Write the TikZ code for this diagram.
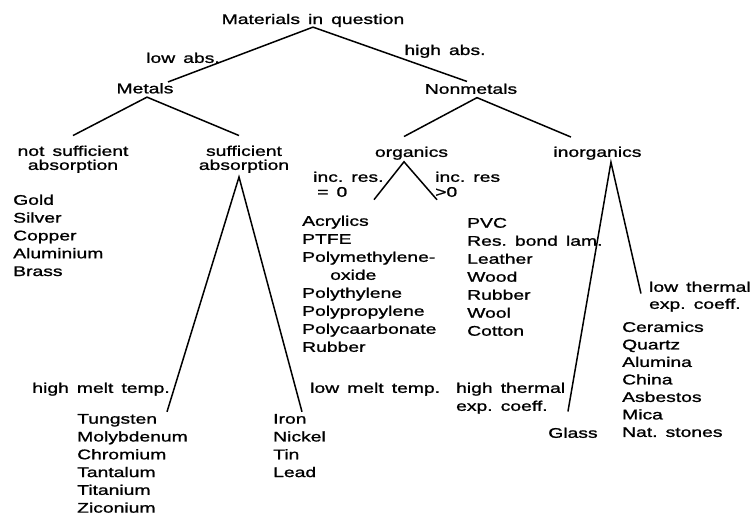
\documentclass[tikz,border=0pt]{standalone}
\usepackage{fontspec}
\setmainfont{Liberation Sans}[FakeStretch=1.38, WordSpace=1.5, FakeBold=1.2]
\usepackage{tikz}
\tikzstyle{lbl} = [inner sep=0pt, font=\fontsize{14}{14}\selectfont]
\tikzstyle{lbltwo} = [inner sep=0pt, align=center, font=\fontsize{14}{14}\selectfont]
\tikzstyle{lst} = [inner sep=0pt, align=left, font=\fontsize{14}{17.8}\selectfont]
\tikzstyle{branch} = [line width=1.5pt]

\begin{document}
\frenchspacing
\begin{tikzpicture}[x=1pt, y=-1pt]
\useasboundingbox (0,0) rectangle (756,516);
\node(root)[lbl] at (313,20.4) {Materials in question};
\node(lowabs)[lbl, below of=root, xshift=-130pt, yshift=-9pt] {low abs.};
\node(highabs)[lbl, below of=root, xshift=132pt, yshift=-2.5pt] {high abs.};
\node(metals)[lbl, below of=lowabs, xshift=-38pt, yshift=-2pt] {Metals};
\node(nonmetals)[lbl, below of=highabs, xshift=26pt, yshift=-9pt] {Nonmetals};
\node(notsuff)[lbltwo, below of=metals, xshift=-72pt, yshift=-42.5pt] {not sufficient\\absorption};
\node(suff)[lbltwo, below of=metals, xshift=99pt, yshift=-42.5pt] {sufficient\\absorption};
\node(organics)[lbl, below of=nonmetals, xshift=-59.5pt, yshift=-36pt] {organics};
\node(inorganics)[lbl, right of=organics, xshift=157.5pt] {inorganics};

% metals side
\node(goldlist)[lst, below of=notsuff, xshift=-60pt, yshift=-47.7pt, anchor=west] {Gold\\Silver\\Copper\\Aluminium\\Brass};
\node(highmelt)[lbl, below of=suff, xshift=-74pt, yshift=-201.5pt, anchor=east] {high melt temp.};
\node(lowmelt)[lbl, below of=suff, xshift=66pt, yshift=-201.5pt, anchor=west] {low melt temp.};
\node(tung)[lst, below of=suff, xshift=-167pt, yshift=-275.7pt, anchor=west] {Tungsten\\Molybdenum\\Chromium\\Tantalum\\Titanium\\Ziconium};
\node(iron)[lst, below of=suff, xshift=29pt, yshift=-257.9pt, anchor=west] {Iron\\Nickel\\Tin\\Lead};

% nonmetals side
\node(increszero)[lbltwo, align=left, font=\fontsize{14}{15}\selectfont, below of=organics, xshift=-98.5pt, yshift=-2.6pt, anchor=west] {inc. res.\\\hspace*{4pt}= 0};
\node(increspos)[lbltwo, align=left, font=\fontsize{14}{15}\selectfont, below of=organics, xshift=23.5pt, yshift=-2.6pt, anchor=west] {inc. res\\>0};
\node(acryl)[lst, font=\fontsize{14}{18}\selectfont, below of=organics, xshift=-109.5pt, yshift=-102.1pt, anchor=west] {Acrylics\\PTFE\\Polymethylene-\\\hspace*{28pt}oxide\\Polythylene\\Polypropylene\\Polycaarbonate\\Rubber};
\node(pvc)[lst, font=\fontsize{14}{18}\selectfont, below of=organics, xshift=55.5pt, yshift=-95.2pt, anchor=west] {PVC\\Res. bond lam.\\Leather\\Wood\\Rubber\\Wool\\Cotton};
\node(lowth)[lbltwo, align=left, font=\fontsize{14}{17}\selectfont, below of=inorganics, xshift=51.5pt, yshift=-115pt, anchor=west] {low thermal\\exp. coeff.};
\node(ceram)[lst, font=\fontsize{14}{17.5}\selectfont, below of=inorganics, xshift=24.5pt, yshift=-197.7pt, anchor=west] {Ceramics\\Quartz\\Alumina\\China\\Asbestos\\Mica\\Nat. stones};
\node(highth)[lbltwo, align=left, font=\fontsize{14}{18}\selectfont, below of=inorganics, xshift=-141.5pt, yshift=-216.5pt, anchor=west] {high thermal\\exp. coeff.};
\node(glass)[lbl, below of=inorganics, xshift=-24.5pt, yshift=-251.1pt] {Glass};

\draw[branch] ([xshift=23pt,yshift=1pt]metals.north) -- (root.south) -- ([xshift=-4pt,yshift=2pt]nonmetals.north);
\draw[branch] ([yshift=10pt]notsuff.north) -- ([xshift=2pt,yshift=-3.5pt]metals.south) -- ([xshift=-5pt,yshift=10pt]suff.north);
\draw[branch] ([xshift=-7.5pt,yshift=10pt]organics.north) -- ([xshift=6pt,yshift=-3.5pt]nonmetals.south) -- ([xshift=-26.5pt,yshift=9.5pt]inorganics.north);
\draw[branch] ([xshift=90pt,yshift=2pt]tung.north west) -- ([xshift=-5pt,yshift=-4pt]suff.south) -- ([xshift=29pt,yshift=2pt]iron.north west);
\draw[branch] ([xshift=72pt,yshift=15.8pt]acryl.north west) -- ([xshift=-7.5pt,yshift=-1.8pt]organics.south) -- ([xshift=-30pt,yshift=18pt]pvc.north west);
\draw[branch] ([xshift=-5pt,yshift=16pt]glass.north) -- ([xshift=13.5pt,yshift=-2.2pt]inorganics.south) -- ([xshift=19pt,yshift=28pt]ceram.north west);
\end{tikzpicture}
\end{document}
